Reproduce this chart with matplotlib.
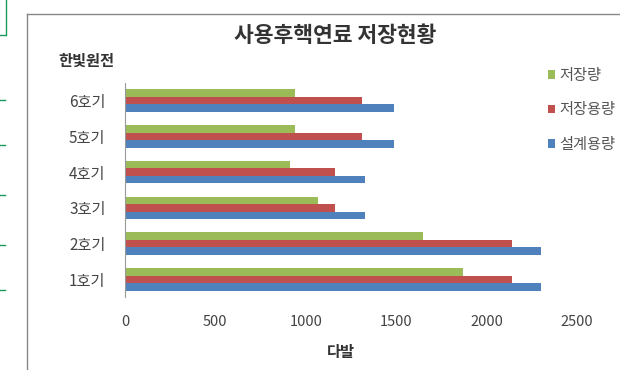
import matplotlib
matplotlib.use('Agg')
import matplotlib.pyplot as plt
import numpy as np
from matplotlib.lines import Line2D

plt.rcParams['font.family'] = ['Noto Sans CJK KR', 'DejaVu Sans']

# 한빛원전 호기별 사용후핵연료 (다발)
units = ['1호기', '2호기', '3호기', '4호기', '5호기', '6호기']
stored = [1870, 1650, 1070, 910, 940, 940]          # 저장량
storage_cap = [2140, 2140, 1160, 1160, 1310, 1310]  # 저장용량
design_cap = [2300, 2300, 1330, 1330, 1490, 1490]   # 설계용량
xticks = [0, 500, 1000, 1500, 2000, 2500]

green = '#9BBB59'
red = '#C0504D'
blue = '#4F81BD'

fig = plt.figure(figsize=(6.2, 3.7), dpi=100)
ax = fig.add_axes([0.2016, 0.197, 0.729, 0.579])

y = np.arange(len(units))
h = 0.21
ax.barh(y + h, stored, height=h, color=green, label='저장량')
ax.barh(y, storage_cap, height=h, color=red, label='저장용량')
ax.barh(y - h, design_cap, height=h, color=blue, label='설계용량')

ax.set_xlim(0, 2500)
ax.set_ylim(-0.5, 5.5)
ax.set_xticks(xticks)
ax.set_xticklabels([str(t) for t in xticks], fontsize=10.5, color='#444444')
ax.set_yticks(y)
ax.set_yticklabels(units, fontsize=11, color='#444444')
ax.tick_params(axis='x', length=0, pad=13)
ax.tick_params(axis='y', length=0, pad=14)
for s in ['top', 'right', 'bottom']:
    ax.spines[s].set_visible(False)
ax.spines['left'].set_color('#999999')

fig.text(335 / 620, 1 - 36 / 370, '사용후핵연료 저장현황', ha='center', va='center',
         fontsize=15.5, fontweight='bold', color='#333333')
fig.text(86 / 620, 1 - 61 / 370, '한빛원전', ha='center', va='center',
         fontsize=11, fontweight='bold', color='#333333')
fig.text(341 / 620, 1 - 352 / 370, '다발', ha='center', va='center',
         fontsize=11, fontweight='bold', color='#333333')

fig.legend(loc='upper left', bbox_to_anchor=(534 / 620, 1 - 53 / 370), frameon=False,
           fontsize=11, handlelength=0.5, handleheight=0.5, handletextpad=0.25,
           labelspacing=1.15, labelcolor='#555555')

# chart border (extends past the crop)
fig.add_artist(Line2D([27 / 620, 27 / 620], [0, 1 - 14 / 370], color='#888888', lw=1))
fig.add_artist(Line2D([27 / 620, 1], [1 - 14 / 370, 1 - 14 / 370], color='#888888', lw=1))

# page fragments at the left edge
fig.add_artist(Line2D([6 / 620, 6 / 620], [1, 1 - 35 / 370], color='#1a9a5a', lw=1))
for py in [35, 100, 145, 195, 245, 290]:
    fig.add_artist(Line2D([0, 5 / 620], [1 - py / 370, 1 - py / 370], color='#1a9a5a', lw=1))

fig.savefig('out.png', dpi=100)
